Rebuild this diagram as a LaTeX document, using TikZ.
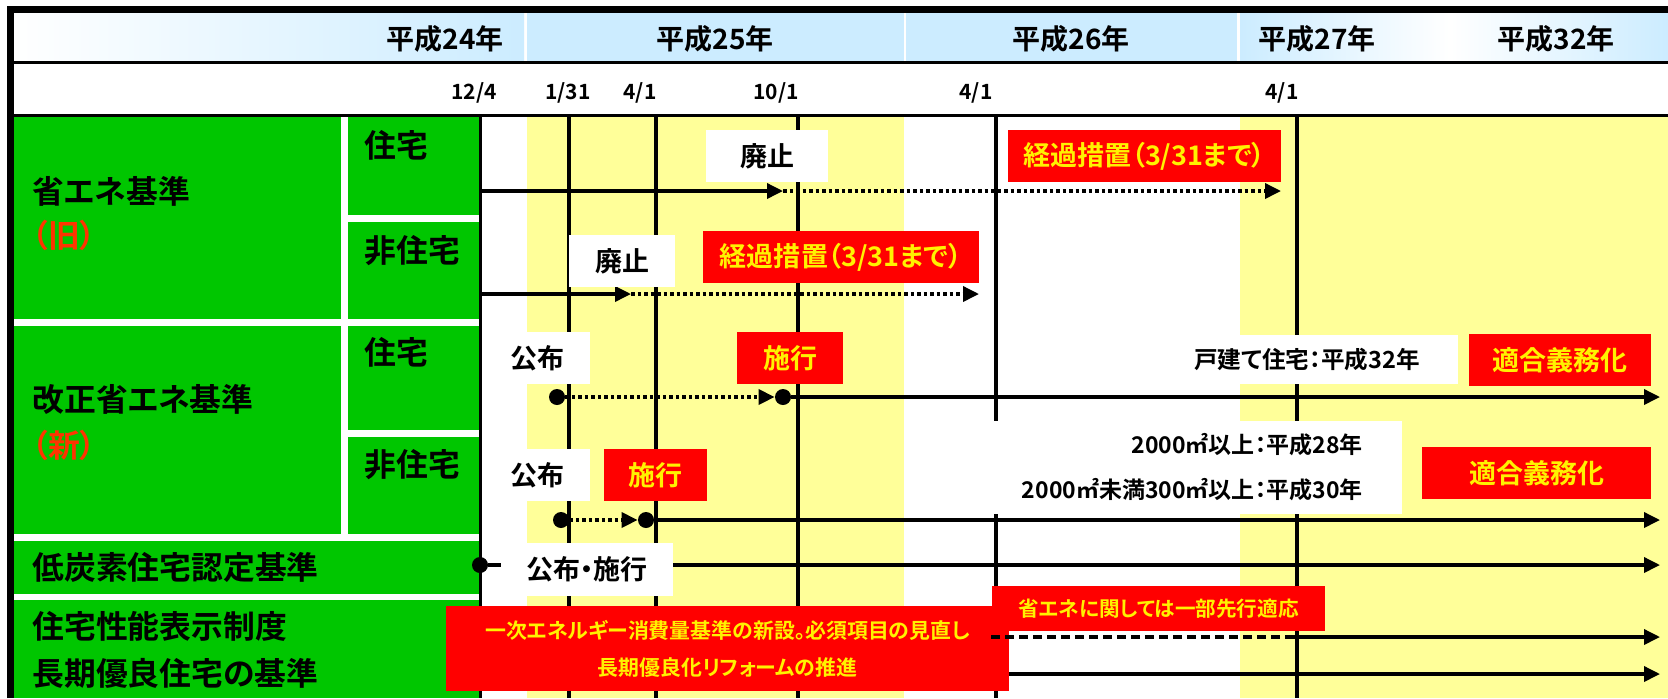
\documentclass[tikz,border=0pt]{standalone}
\usepackage{fontspec}
\setmainfont{Noto Sans CJK JP}[UprightFont=* Bold, RawFeature=+palt]
\usepackage{tikz}
\usetikzlibrary{positioning}
\usetikzlibrary{arrows.meta}

\definecolor{midori}{RGB}{0,198,0}
\definecolor{kiiro}{RGB}{255,255,153}
\definecolor{sora}{RGB}{204,236,255}
\definecolor{shu}{RGB}{255,51,0}

\begin{document}
\begin{tikzpicture}[x=0.5pt, y=-0.5pt,
    nen/.style={inner sep=0, font=\fontsize{14}{16}\selectfont},
    hi/.style={inner sep=0, font=\fontsize{10.5}{12}\selectfont},
    koumoku/.style={anchor=west, inner sep=0, font=\fontsize{15.9}{18}\selectfont},
    wbox/.style={fill=white, inner sep=0, font=\fontsize{13.5}{16}\selectfont},
    rbox/.style={fill=red, text=yellow, inner sep=0, font=\fontsize{13.5}{16}\selectfont},
    ten/.style={circle, fill=black, inner sep=0, minimum size=8pt},
    sen/.style={line width=1.75pt},
    ya/.style={sen, -{Triangle[length=8pt,width=7.5pt]}},
    tensen/.style={dash pattern=on 1.75pt off 1.5pt}]
	\useasboundingbox (0,0) rectangle (1668,698);
	\fill[white] (0,0) rectangle (1668,698);
	% header
	\shade[left color=white, right color=sora] (13,13) rectangle (524,61);
	\fill[sora] (527,13) rectangle (904,61);
	\fill[sora] (906,13) rectangle (1237,61);
	\shade[left color=sora, right color=white] (1240,13) rectangle (1450,61);
	\shade[left color=white, right color=sora] (1450,13) rectangle (1668,61);
	% yellow bands
	\fill[kiiro] (527,117) rectangle (904,698);
	\fill[kiiro] (1240,117) rectangle (1668,698);
	% green cells
	\fill[midori] (13,117) rectangle (341,319);
	\fill[midori] (13,326) rectangle (341,534);
	\fill[midori] (348,117) rectangle (479,215);
	\fill[midori] (348,222) rectangle (479,319);
	\fill[midori] (348,326) rectangle (479,430);
	\fill[midori] (348,437) rectangle (479,534);
	\fill[midori] (13,541) rectangle (479,594);
	\fill[midori] (13,600) rectangle (479,698);
	% frame
	\draw[line width=3.25pt] (10.5,698) -- (10.5,9.5) -- (1668,9.5);
	\draw[sen] (13,62.5) -- (1668,62.5);
	\draw[sen] (13,115.5) -- (1668,115.5);
	\draw[sen] (480.5,114) -- (480.5,698);
	\foreach \x in {569,656,798,996,1297}
		\draw[sen] (\x,116) -- (\x,698);

	\node[nen] (Y24) at (445,38.5) {平成24年};
	\node[nen] (Y25) at (715,38.5) {平成25年};
	\node[nen] (Y26) at (1071,38.5) {平成26年};
	\node[nen] (Y27) at (1317,38.5) {平成27年};
	\node[nen] (Y32) at (1556,38.5) {平成32年};

	\node[hi] (D0) at (474,92.5) {12/4};
	\node[hi] (D1) at (568,92.5) {1/31};
	\node[hi] (D2) at (640,92.5) {4/1};
	\node[hi] (D3) at (776,92.5) {10/1};
	\node[hi] (D4) at (976,92.5) {4/1};
	\node[hi] (D5) at (1282,92.5) {4/1};

	\node[koumoku] (K1) at (32,191.5) {省エネ基準};
	\node[koumoku, text=shu] (K1b) at (32,235) {（旧）};
	\node[koumoku] (K2) at (32,399) {改正省エネ基準};
	\node[koumoku, text=shu] (K2b) at (32,445) {（新）};
	\node[koumoku] (K3) at (32,567) {低炭素住宅認定基準};
	\node[koumoku] (K4) at (32,626) {住宅性能表示制度};
	\node[koumoku] (K4b) at (32,673) {長期優良住宅の基準};
	\node[koumoku] (J1) at (364,145) {住宅};
	\node[koumoku] (H1) at (364,251) {非住宅};
	\node[koumoku] (J2) at (364,352) {住宅};
	\node[koumoku] (H2) at (364,465) {非住宅};

	% old standard
	\coordinate (S1) at (481,191);
	\coordinate (M1) at (783,191);
	\coordinate (E1) at (1281,191);
	\draw[ya] (S1) -- (M1);
	\draw[ya, tensen] (M1) -- (E1);
	\coordinate (S2) at (481,294);
	\coordinate (M2) at (631,294);
	\coordinate (E2) at (979,294);
	\draw[ya] (S2) -- (M2);
	\draw[ya, tensen] (M2) -- (E2);

	% new standard
	\node[ten] (P1) at (557,397) {};
	\node[ten] (P2) at (783,397) {};
	\coordinate (E3) at (1660,397);
	\draw[ya, tensen] (P1) -- (P2);
	\draw[ya] (P2) -- (E3);
	\node[ten] (P3) at (561,520) {};
	\node[ten] (P4) at (646,520) {};
	\coordinate (E4) at (1660,520);
	\draw[ya, tensen] (P3) -- (P4);
	\draw[ya] (P4) -- (E4);

	% low carbon
	\node[ten] (P5) at (480,565) {};
	\coordinate (E5) at (1660,565);
	\draw[ya] (P5) -- (E5);

	\node[wbox, minimum width=61pt, minimum height=26pt] (HA1) at (767,156) {廃止};
	\node[rbox, minimum width=136.5pt, minimum height=26pt] (KK1) at (1144.5,156) {経過措置（3/31まで）};
	\node[wbox, minimum width=53pt, minimum height=26pt] (HA2) at (622,261) {廃止};
	\node[rbox, minimum width=138pt, minimum height=26pt] (KK2) at (841,257) {経過措置（3/31まで）};
	\node[wbox, minimum width=52.5pt, minimum height=26pt] (KF1) at (537.5,358) {公布};
	\node[rbox, minimum width=53pt, minimum height=26pt] (SK1) at (790,358) {施行};
	\node[wbox, minimum width=151pt, minimum height=24.5pt, font=\fontsize{11.8}{14}\selectfont] (KD) at (1307,359.5) {戸建て住宅：平成32年};
	\node[rbox, minimum width=91pt, minimum height=26pt] (TG1) at (1560,360) {適合義務化};
	\node[wbox, minimum width=52.5pt, minimum height=26pt] (KF2) at (537.5,475) {公布};
	\node[rbox, minimum width=51.5pt, minimum height=26pt] (SK2) at (655.5,475) {施行};
	\node[wbox, anchor=east, align=right, inner xsep=19.5pt, minimum height=46.5pt, font=\fontsize{11.5}{22.5}\selectfont] (MS) at (1402,467.5) {2000㎡以上：平成28年\\2000㎡未満300㎡以上：平成30年};
	\node[rbox, minimum width=114.5pt, minimum height=26pt] (TG2) at (1536.5,473) {適合義務化};
	\node[wbox, minimum width=86pt, minimum height=26.5pt] (KS) at (587,569.5) {公布・施行};

	% housing performance
	\node[rbox, minimum width=281.5pt, minimum height=42.5pt, align=center, font=\fontsize{10.45}{18.5}\selectfont] (IJ) at (727.5,648.5) {一次エネルギー消費量基準の新設。必須項目の見直し\\長期優良化リフォームの推進};
	\node[rbox, minimum width=166.5pt, minimum height=22.5pt, font=\fontsize{10.3}{12}\selectfont] (SE) at (1158.5,608.5) {省エネに関しては一部先行適応};
	\coordinate (S6) at (991,637);
	\coordinate (M6) at (1285,637);
	\coordinate (E6) at (1660,637);
	\draw[sen, dash pattern=on 4.5pt off 2.5pt] (S6) -- (M6);
	\draw[ya] (M6) -- (E6);
	\coordinate (S7) at (1009,674);
	\coordinate (E7) at (1660,674);
	\draw[ya] (S7) -- (E7);
\end{tikzpicture}
\end{document}
